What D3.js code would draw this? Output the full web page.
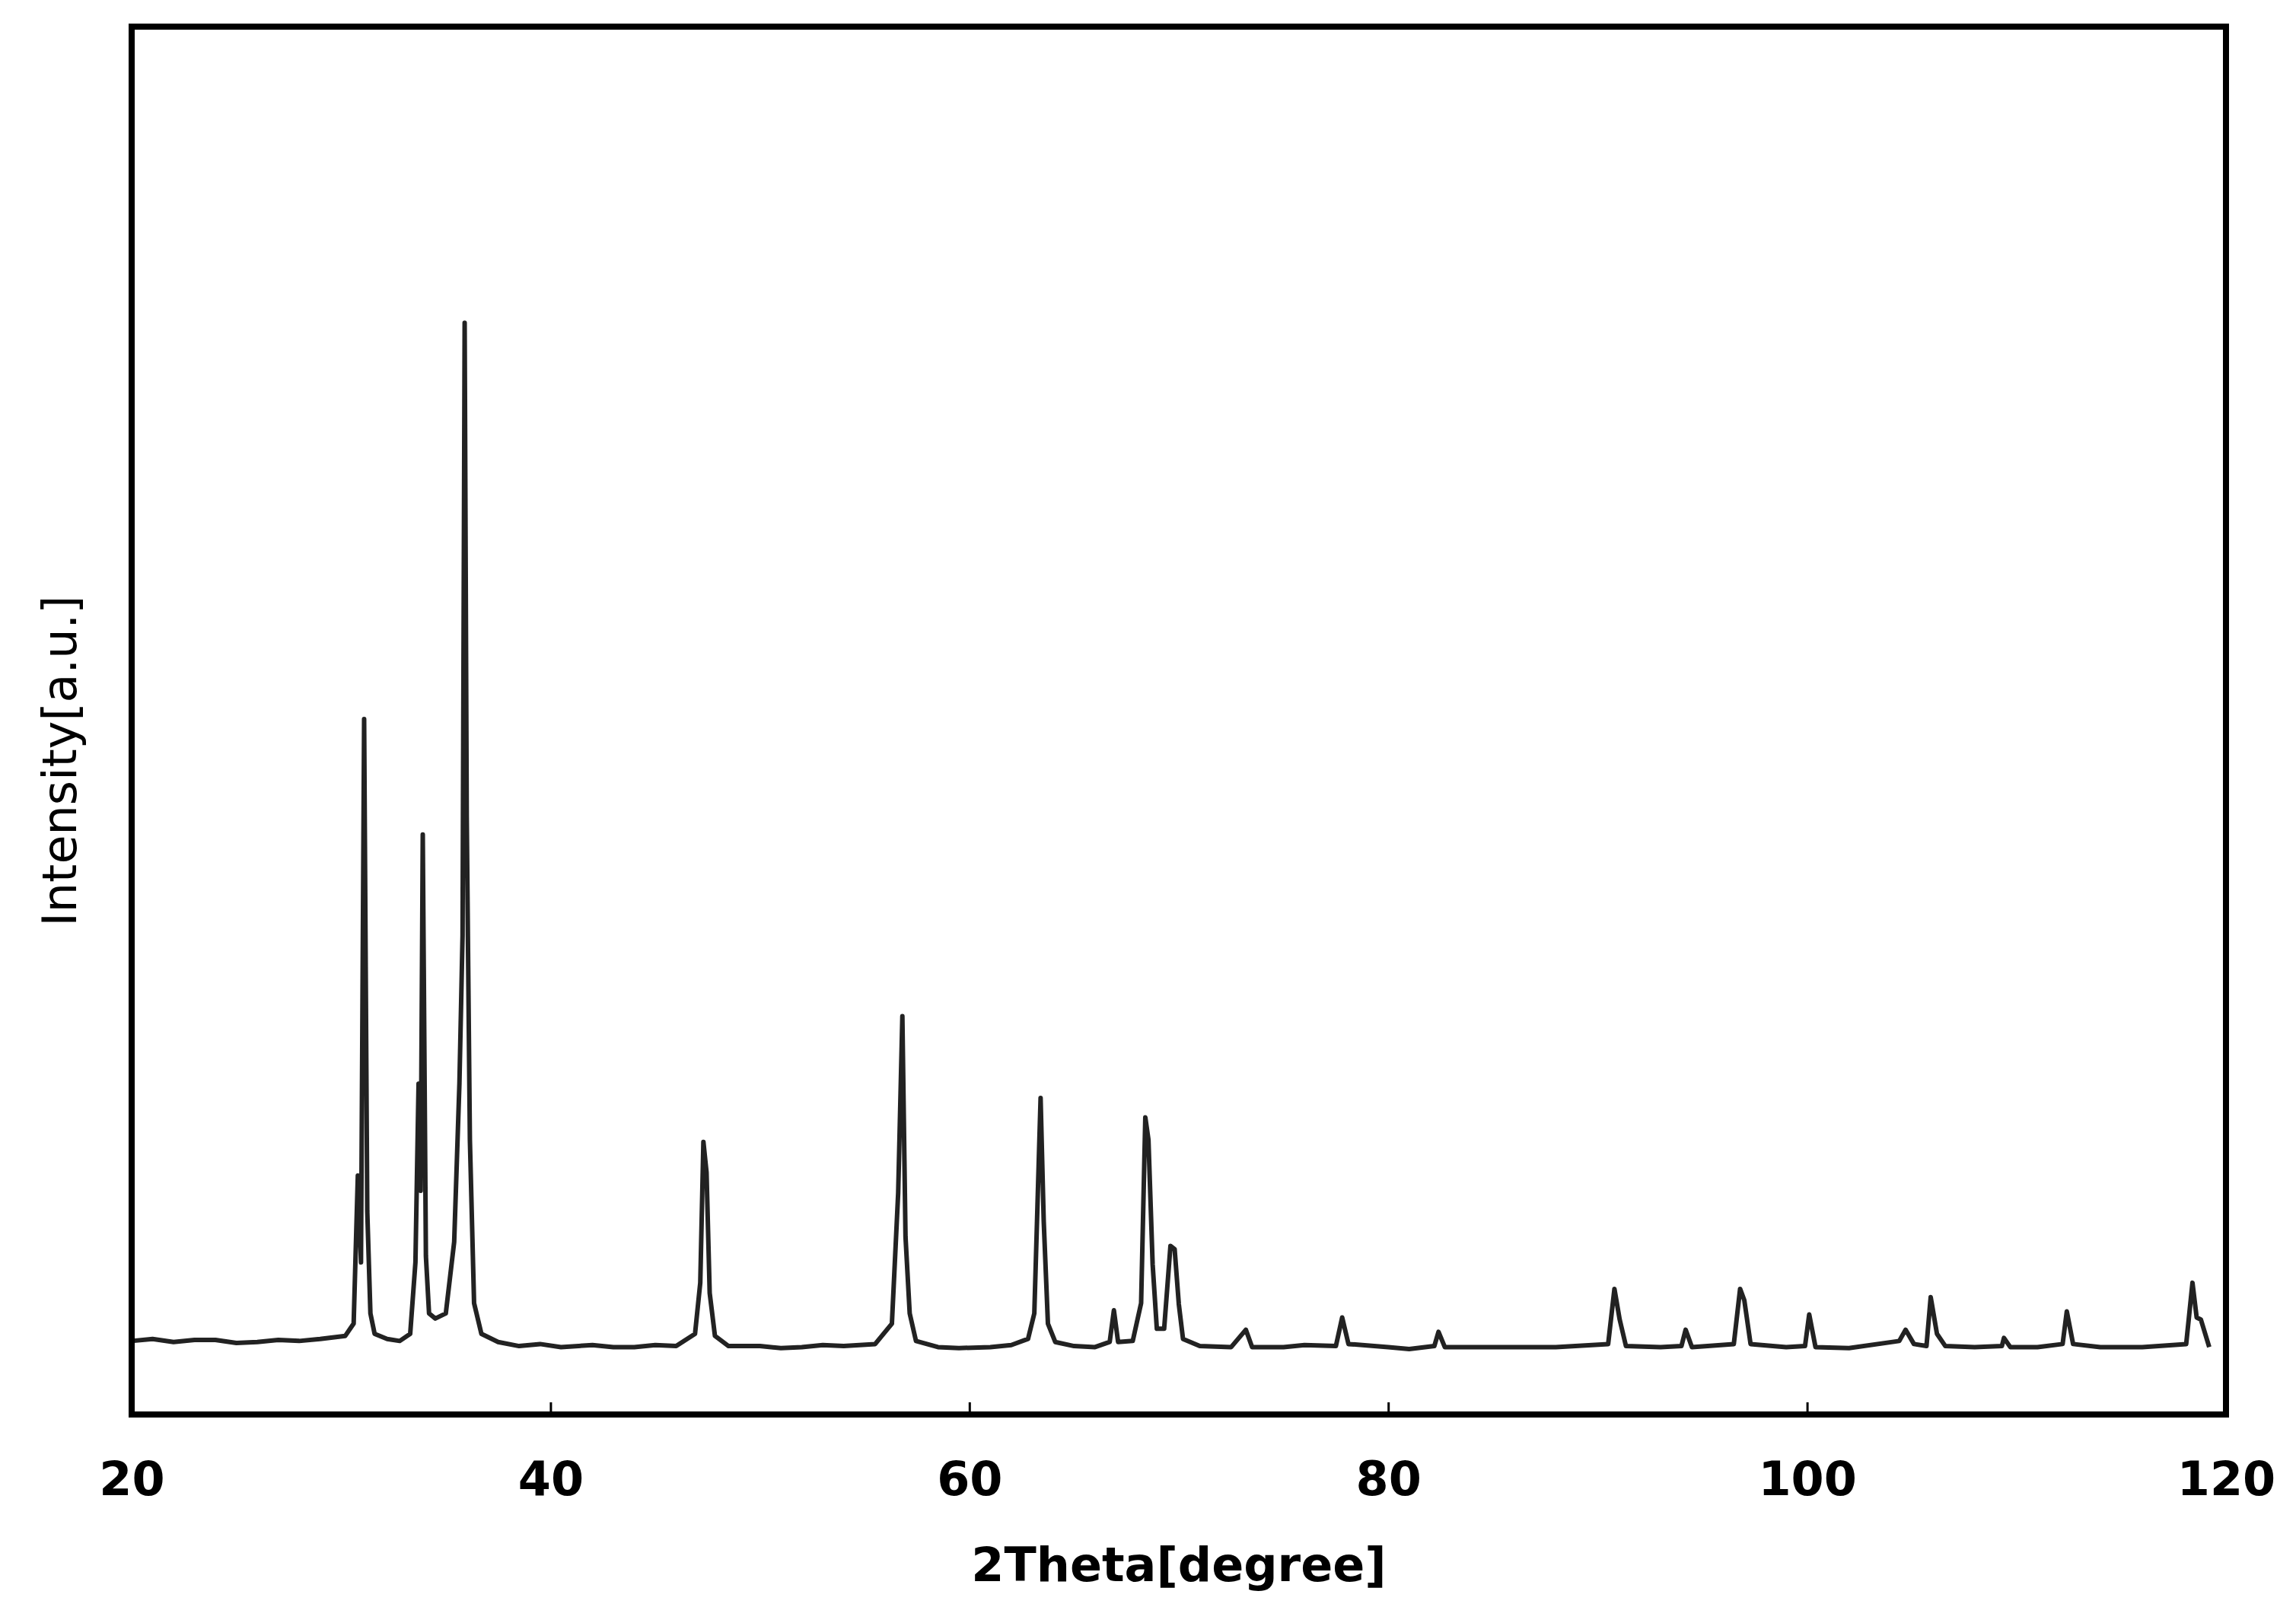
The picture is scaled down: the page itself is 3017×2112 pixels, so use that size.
<!DOCTYPE html>
<html><head><meta charset="utf-8">
<script src="https://cdn.jsdelivr.net/npm/d3@7"></script>
<style>body{margin:0;background:#fff}</style>
</head><body>
<svg id="svg" width="3017" height="2112"></svg>
<script>
const twoTheta = [20,21,22,23,24,25,26,27,28,29,30.2,30.6,30.8,30.95,31.1,31.25,31.4,31.6,32.2,32.8,33.3,33.55,33.7,33.8,33.9,34.05,34.2,34.5,35.0,35.4,35.65,35.8,35.9,36.0,36.15,36.35,36.7,37.5,38.5,39.5,40.5,42,43,44,45,46,46.9,47.15,47.3,47.45,47.6,47.85,48.5,50,51,52,53,54,55.5,56.3,56.6,56.8,56.95,57.15,57.45,58.5,59.5,61,62,62.8,63.1,63.25,63.4,63.55,63.75,64.1,65,66,66.7,66.9,67.1,67.8,68.2,68.4,68.55,68.75,68.95,69.3,69.6,69.8,70.0,70.2,71,72.5,73.2,73.5,75,76,77.5,77.8,78.1,80,81,82.2,82.4,82.7,85,88,90.5,90.8,91.05,91.35,93,94,94.2,94.5,96.5,96.8,97.0,97.3,99,99.9,100.1,100.4,102,104.4,104.7,105.1,105.7,105.9,106.2,106.6,108,109.3,109.4,109.7,111,112.2,112.4,112.7,114,116,118.1,118.4,118.6,118.8,119.2];
const intensity = [0.3,0.5,0.2,0.4,0.4,0.1,0.2,0.4,0.3,0.5,0.8,2,16.5,8,61.2,13,3,1,0.5,0.3,1,8,25.5,15,49.9,8.6,3,2.5,3,10,25.5,40,100,51.6,20,4,1,0.2,-0.2,0,-0.3,-0.1,-0.3,-0.3,-0.1,-0.2,1,6,19.8,16.8,5,0.8,-0.2,-0.2,-0.4,-0.3,-0.1,-0.2,0,2,14.8,32.1,10.5,3,0.3,-0.3,-0.4,-0.3,-0.1,0.5,3,13.5,24.1,12,2,0.2,-0.2,-0.3,0.2,3.3,0.2,0.3,4,22.2,20,7.8,1.5,1.5,9.6,9.3,3.9,0.5,-0.2,-0.3,1.4,-0.3,-0.3,-0.1,-0.2,2.6,0,-0.3,-0.5,-0.2,1.2,-0.3,-0.3,-0.3,0,5.4,2.4,-0.2,-0.3,-0.2,1.4,-0.3,0,5.4,4.3,0,-0.3,-0.2,2.9,-0.3,-0.4,0.3,1.4,0,-0.2,4.6,1,-0.2,-0.3,-0.2,0.6,-0.3,-0.3,0,3.2,0,-0.3,-0.3,0,6,2.6,2.4,-0.3];
const xTicks = [20,40,60,80,100,120];

const svg = d3.select('#svg');
const plotLeft = 173, plotRight = 2925, plotTop = 35, plotBottom = 1859;

const x = d3.scaleLinear().domain([20, 120]).range([plotLeft, plotRight]);
const y = d3.scaleLinear().domain([-6.9, 129]).range([plotBottom, plotTop]);

const pts = twoTheta.map((t, i) => [t, intensity[i]]);
svg.append('path')
    .datum(pts)
    .attr('d', d3.line().x(d => x(d[0])).y(d => y(d[1])))
    .style('fill', 'none')
    .style('stroke', '#222')
    .style('stroke-width', 6)
    .style('stroke-linejoin', 'round');

const ax = svg.append('g')
    .attr('transform', `translate(0,${plotBottom})`)
    .call(d3.axisBottom(x).tickValues(xTicks).tickSize(-16).tickPadding(62).tickFormat(d3.format('d')));
ax.select('.domain').remove();
ax.selectAll('line').style('stroke', '#000').style('stroke-width', 3);
ax.selectAll('text')
    .style('font-family', 'DejaVu Sans')
    .style('font-weight', 'bold')
    .style('font-size', '62px')
    .style('fill', '#000');

svg.append('rect')
    .attr('x', plotLeft)
    .attr('y', plotTop)
    .attr('width', plotRight - plotLeft)
    .attr('height', plotBottom - plotTop)
    .style('fill', 'none')
    .style('stroke', '#000')
    .style('stroke-width', 8);

svg.append('text')
    .attr('x', (plotLeft + plotRight) / 2)
    .attr('y', 2078)
    .attr('text-anchor', 'middle')
    .style('font-family', 'DejaVu Sans')
    .style('font-weight', 'bold')
    .style('font-size', '62px')
    .text('2Theta[degree]');

svg.append('text')
    .attr('transform', 'translate(100,1000) rotate(-90)')
    .attr('text-anchor', 'middle')
    .style('font-family', 'DejaVu Sans')
    .style('font-size', '62px')
    .text('Intensity[a.u.]');
</script>
</body></html>
